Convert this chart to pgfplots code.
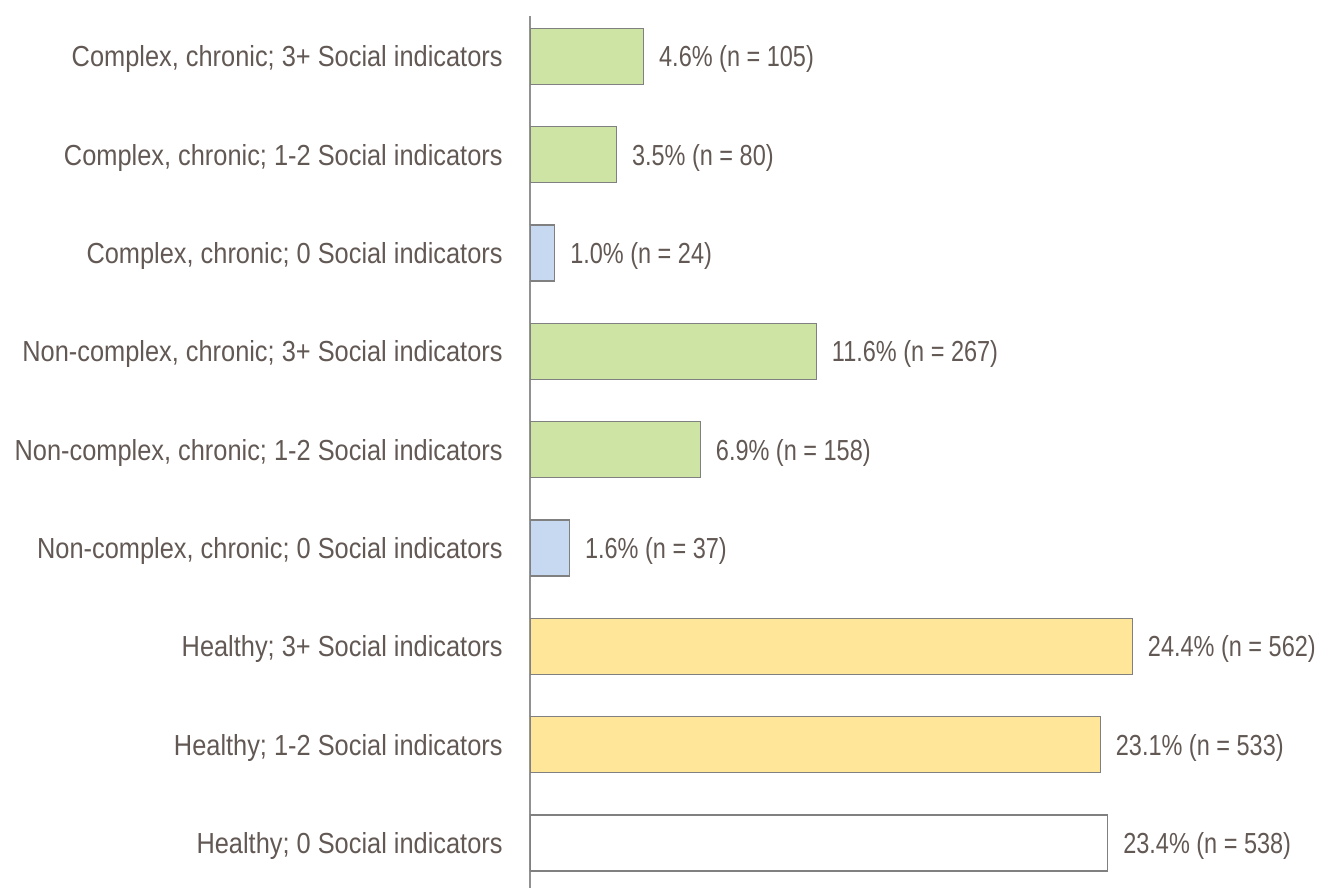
\documentclass[border=0pt]{standalone}
\usepackage{fontspec}
\setmainfont{Liberation Sans}[FakeStretch=0.875]
\newfontfamily\lblfont{Liberation Sans}[FakeStretch=0.81]
\usepackage{pgfplots}
\pgfplotsset{compat=1.18}
\definecolor{TextCol}{RGB}{98,88,84}
\definecolor{BarGreen}{RGB}{206,228,164}
\definecolor{BarBlue}{RGB}{198,217,240}
\definecolor{BarYellow}{RGB}{255,230,153}
\definecolor{EdgeCol}{RGB}{128,128,128}
\definecolor{AxisCol}{RGB}{145,145,145}
\begin{document}
\begin{tikzpicture}
\begin{axis}[
    at={(0,0)}, anchor=south west,
    scale only axis,
    width=395pt, height=436pt,
    xmin=0, xmax=32,
    ymin=-0.457, ymax=8.41,
    axis x line=none,
    axis y line*=left,
    y axis line style={draw=AxisCol, line width=0.75pt, -},
    xbar, bar shift=0pt, bar width=0.57,
    ytick={0,...,8},
    yticklabels={
        Healthy; 0 Social indicators,
        Healthy; 1-2 Social indicators,
        Healthy; 3+ Social indicators,
        {Non-complex, chronic; 0 Social indicators},
        {Non-complex, chronic; 1-2 Social indicators},
        {Non-complex, chronic; 3+ Social indicators},
        {Complex, chronic; 0 Social indicators},
        {Complex, chronic; 1-2 Social indicators},
        {Complex, chronic; 3+ Social indicators}},
    major tick length=0pt,
    ytick style={draw=none},
    yticklabel style={font=\fontsize{14.5}{16}\selectfont, text=TextCol, anchor=east, inner sep=0pt, xshift=-13.5pt, yshift=-1.5pt},
    point meta=explicit symbolic,
    nodes near coords,
    nodes near coords style={font=\lblfont\fontsize{14.5}{16}\selectfont, text=TextCol, anchor=west, inner sep=0pt, xshift=7.5pt, yshift=-1.5pt},
    every axis plot/.append style={draw=EdgeCol, line width=0.6pt},
]
\addplot[fill=BarGreen] coordinates {
    (4.6,8) [4.6\% (n = 105)]
    (3.5,7) [3.5\% (n = 80)]
    (11.6,5) [11.6\% (n = 267)]
    (6.9,4) [6.9\% (n = 158)]
};
\addplot[fill=BarBlue] coordinates {
    (1.0,6) [1.0\% (n = 24)]
    (1.6,3) [1.6\% (n = 37)]
};
\addplot[fill=BarYellow] coordinates {
    (24.4,2) [24.4\% (n = 562)]
    (23.1,1) [23.1\% (n = 533)]
};
\addplot[fill=white] coordinates {
    (23.4,0) [23.4\% (n = 538)]
};
\end{axis}
\pgfresetboundingbox
\path[use as bounding box] (-265pt,-1pt) rectangle (395pt,444pt);
\end{tikzpicture}
\end{document}
